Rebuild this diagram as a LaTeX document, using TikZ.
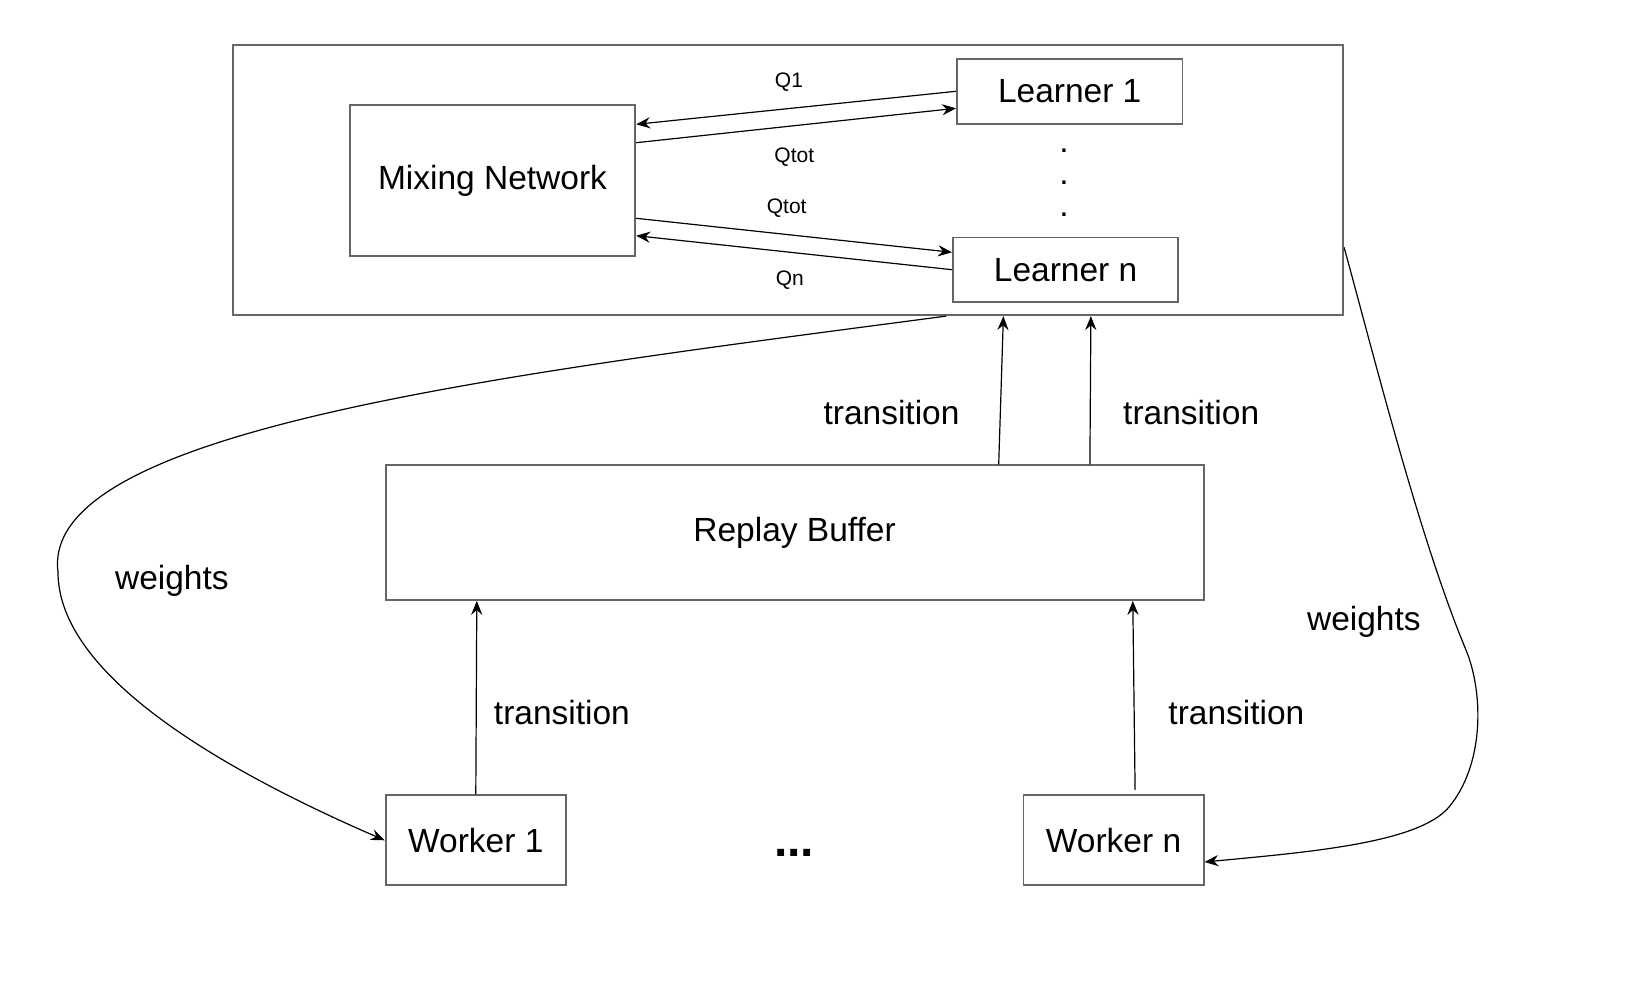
\documentclass[tikz,border=0pt]{standalone}
\usepackage{fontspec}
\setmainfont{Liberation Sans}
\usetikzlibrary{arrows.meta,calc}
\definecolor{boxline}{RGB}{102,102,102}
\newcommand{\bigf}{\fontsize{16.75}{20}\selectfont}
\newcommand{\smallf}{\fontsize{10.5}{12.6}\selectfont}
\tikzset{
  box/.style={draw=boxline, line width=0.9pt, inner sep=0pt, font=\bigf, fill=white},
  lbl/.style={inner sep=0pt, font=\bigf},
  slbl/.style={inner sep=0pt, font=\smallf},
  arr/.style={-{Stealth[length=7pt,width=5.6pt,inset=2.4pt]}, line width=0.6pt, draw=black},
  wire/.style={line width=0.6pt, draw=black}
}
\begin{document}
\begin{tikzpicture}[x=0.5pt,y=-0.5pt]
\useasboundingbox (0,0) rectangle (1630,990);
\fill[white] (0,0) rectangle (1630,990);

% boxes
\node[box, minimum width=555.2pt, minimum height=134.95pt] (outer) at (788,180.25) {};
\node[box, minimum width=142.8pt, minimum height=75.2pt] (mix) at (492.5,180.5) {Mixing Network};
\node[box, minimum width=112.8pt, minimum height=32.4pt] (L1) at (1069.7,91.3) {Learner 1};
\node[box, minimum width=112.7pt, minimum height=32.15pt] (Ln) at (1065.6,269.65) {Learner n};
\node[box, minimum width=409pt, minimum height=67.35pt] (rb) at (794.6,532.65) {Replay Buffer};
\node[box, minimum width=90.2pt, minimum height=45pt] (w1) at (475.8,840.3) {Worker 1};
\node[box, minimum width=90.05pt, minimum height=45pt] (w2) at (1113.55,840.3) {Worker n};

% vertical dots and ellipsis
\node[inner sep=0pt, align=center, font=\fontsize{16.75}{15.9}\selectfont] (vdots) at (1064,182.7) {.\\.\\.};
\node[inner sep=0pt, font=\fontsize{24}{28}\selectfont\bfseries] (hdots) at (794,853) {...};

% mixing <-> learners
\draw[arr] (L1.west |- 0,91.3) -- (mix.east |- 0,124.3);
\draw[arr] (mix.east |- 0,142.7) -- (L1.west |- 0,108.3);
\draw[arr] (mix.east |- 0,218.3) -- (Ln.west |- 0,252.3);
\draw[arr] (Ln.west |- 0,269.7) -- (mix.east |- 0,235.7);
\node[slbl] (q1) at (789,82.2) {Q1};
\node[slbl] (qt1) at (794.3,156.7) {Qtot};
\node[slbl] (qt2) at (786.7,208.3) {Qtot};
\node[slbl] (qn) at (789.9,280.3) {Qn};

% transitions
\draw[arr] (w1.north) -- (rb.south -| 476.8,0);
\draw[arr] ($(w2.north -| 1135.1,0)+(0,-4.6)$) -- (rb.south -| 1132.8,0);
\draw[arr] (rb.north -| 998.7,0) -- (outer.south -| 1003.4,0);
\draw[arr] (rb.north -| 1089.9,0) -- (outer.south -| 1090.9,0);
\node[lbl] (t1) at (891.5,413) {transition};
\node[lbl] (t2) at (1191.2,413) {transition};
\node[lbl] (t3) at (561.9,713) {transition};
\node[lbl] (t4) at (1236.4,712.4) {transition};

% weights
\draw[arr] (outer.south -| 946.2,0) .. controls (500,375) and (40,430) .. (58,572)
  .. controls (58,670) and (205.5,762.6) .. (w1.west);
\draw[arr] (outer.east |- 0,247.3) .. controls (1375,360) and (1420,540) .. (1466,650)
  .. controls (1484,694) and (1484,765) .. (1449,807)
  .. controls (1419,843) and (1310,852) .. (w2.east |- 0,862);
\node[lbl] (wl) at (171.9,580.4) {weights};
\node[lbl] (wr) at (1363.9,621.4) {weights};
\end{tikzpicture}
\end{document}
